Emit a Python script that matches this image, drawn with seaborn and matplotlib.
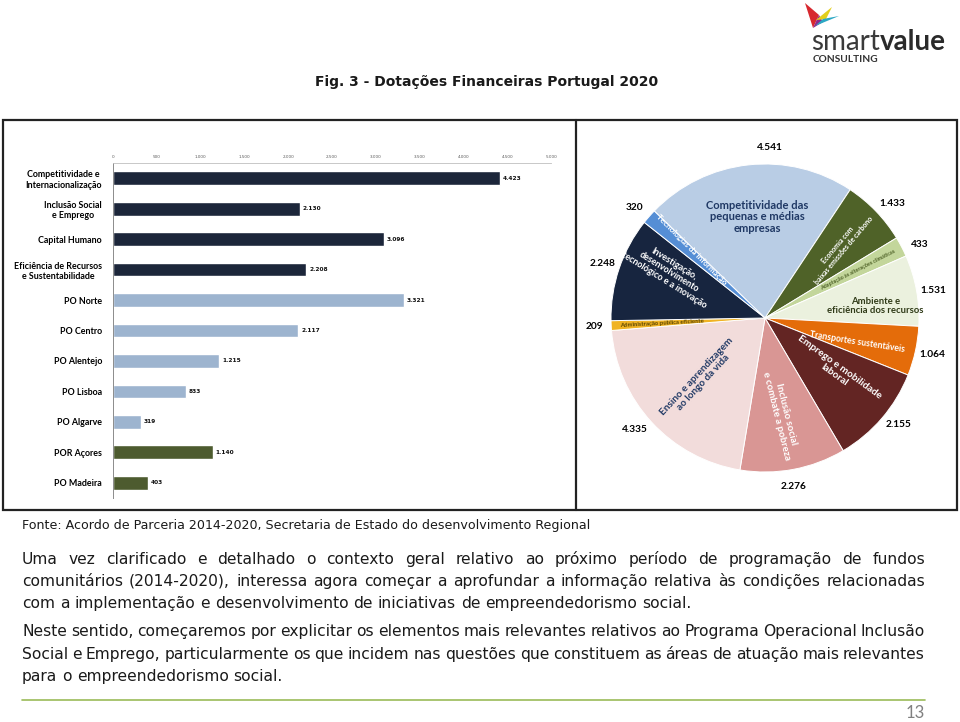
import numpy as np
import pandas as pd
import matplotlib
matplotlib.use("Agg")
import matplotlib.pyplot as plt
import matplotlib.patches as patches
from matplotlib.lines import Line2D
import seaborn as sns

# ---- dados: barras (programas operacionais, M EUR)
programas = ["Competitividade e\nInternacionalização", "Inclusão Social\ne Emprego", "Capital Humano",
             "Eficiência de Recursos\ne Sustentabilidade", "PO Norte", "PO Centro", "PO Alentejo",
             "PO Lisboa", "PO Algarve", "POR Açores", "PO Madeira"]
dotacoes = [4423, 2130, 3096, 2208, 3321, 2117, 1215, 833, 319, 1140, 403]
grupos = ["Temático"] * 4 + ["Regional"] * 5 + ["Autónomo"] * 2
ticks_x = [0, 500, 1000, 1500, 2000, 2500, 3000, 3500, 4000, 4500, 5000]

# ---- dados: circular (objetivos temáticos)
objetivos = ["Competitividade das\npequenas e médias\nempresas",
             "Economia com\nbaixas emissões de carbono",
             "Adaptação às alterações climáticas",
             "Ambiente e\neficiência dos recursos",
             "Transportes sustentáveis",
             "Emprego e mobilidade\nlaboral",
             "Inclusão social\ne combate a pobreza",
             "Ensino e aprendizagem\nao longo da vida",
             "Administração pública eficiente",
             "Investigação,\ndesenvolvimento\ntecnológico e a inovação",
             "Tecnologias da informação"]
valores_obj = [4541, 1433, 433, 1531, 1064, 2155, 2276, 4335, 209, 2248, 320]

# ---- estilo
cores_grupo = {"Temático": "#17253f", "Regional": "#95b3d7", "Autónomo": "#4f6228"}
cores_obj = ["#b9cde5", "#4f6228", "#c3d69b", "#ebf1de", "#e46c0a", "#632523",
             "#d99694", "#f2dcdb", "#f0b323", "#17253f", "#558ed5"]
# rótulos internos: raio, desvio angular, rotação, tamanho, cor
r_txt = [0.66, 0.67, 0.68, 0.72, 0.62, 0.58, 0.64, 0.58, 0.67, 0.69, 0.65]
dth_txt = [-2, -1, 0, -4, -2, 4, -1, 1, 0, -7, -2]
rot_txt = [0, 50, 27, 0, -9, -36, -76, 47, 3, -32, -45]
tam_txt = [8, 5.0, 3.9, 6.8, 6.2, 7.3, 7, 7.2, 4.3, 6.5, 5.9]
cor_txt = ["#1f3864", "white", "#4f6228", "#2f3a17", "white", "white", "white",
           "#1f3864", "#5a4500", "white", "white"]
dth_val = [-8, -2, -2, -1, 0, 2, -1, -2, 0, 0, 1]

W, H = 960, 722


def fx(x):
    return x / W


def fy(y):
    return 1 - y / H


def pt(v):
    return f"{v:,.0f}".replace(",", ".")


sns.set_theme(style="white")
plt.rcParams['font.family'] = ['DejaVu Sans']

fig = plt.figure(figsize=(9.6, 7.22), dpi=100)
fig.patch.set_facecolor("white")
renderer = fig.canvas.get_renderer()

# ---- moldura
fig.add_artist(patches.Rectangle((fx(3), fy(510)), (957 - 3) / W, (510 - 120) / H, transform=fig.transFigure,
                                 fill=False, edgecolor="#222222", linewidth=1.6))
fig.add_artist(Line2D([fx(576), fx(576)], [fy(120), fy(510)], color="#222222", linewidth=1.6))

# ---- barras
df = pd.DataFrame({"programa": programas, "valor": dotacoes, "grupo": grupos})
ax1 = fig.add_axes([fx(113), fy(498), (551 - 113) / W, (498 - 163) / H])
sns.barplot(data=df, x="valor", y="programa", hue="grupo", palette=cores_grupo, dodge=False,
            width=0.45, orient="h", legend=False, ax=ax1)
ax1.set_xlim(0, 5000)
ax1.set_ylim(len(programas) - 0.5, -0.5)
ax1.xaxis.tick_top()
ax1.set_xticks(ticks_x)
ax1.set_xticklabels([pt(t) for t in ticks_x], fontsize=3, color="#595959")
ax1.tick_params(axis="x", length=0, pad=3)
ax1.set_xlabel("")
ax1.set_ylabel("")
ax1.set_yticks(range(len(programas)))
ax1.set_yticklabels(programas, fontsize=6.4, fontweight="bold", family="Lato", color="black")
for lbl in ax1.get_yticklabels():
    lbl.set_multialignment("center")
ax1.tick_params(axis="y", length=0, pad=8)
ax1.set_yticks(np.arange(-0.5, len(programas), 1), minor=True)
ax1.tick_params(axis="y", which="minor", length=3, color="#a6a6a6", width=0.6)
for s in ["right", "bottom"]:
    ax1.spines[s].set_visible(False)
ax1.spines["top"].set_color("#bfbfbf")
ax1.spines["top"].set_linewidth(0.6)
ax1.spines["left"].set_color("#8c8c8c")
ax1.spines["left"].set_linewidth(0.7)
for c in ax1.containers:
    vals = [b.get_width() for b in c]
    ax1.bar_label(c, labels=[pt(v) if np.isfinite(v) and v > 0 else "" for v in vals], padding=2,
                  fontsize=4.2, fontweight="bold", family="DejaVu Sans", color="#111111")

# ---- circular
ax2 = fig.add_axes([fx(765 - 160), fy(318 + 160), 320 / W, 320 / H])
wedges, _ = ax2.pie(valores_obj, colors=cores_obj, startangle=136, counterclock=False,
                    wedgeprops=dict(edgecolor="white", linewidth=0.7))
lim = 160 / 154
ax2.set_xlim(-lim, lim)
ax2.set_ylim(-lim, lim)
ax2.set_aspect("equal")
ax2.axis("off")
for i, w in enumerate(wedges):
    mid = (w.theta1 + w.theta2) / 2
    a = np.deg2rad(mid + dth_txt[i])
    ax2.text(r_txt[i] * np.cos(a), r_txt[i] * np.sin(a), objetivos[i], ha="center", va="center",
             rotation=rot_txt[i], rotation_mode="anchor", fontsize=tam_txt[i], fontweight="bold",
             family="Lato", color=cor_txt[i], linespacing=1.05)
    b = np.deg2rad(mid + dth_val[i])
    ax2.text(1.11 * np.cos(b), 1.11 * np.sin(b), pt(valores_obj[i]), ha="center", va="center",
             fontsize=7.3, fontweight="bold", family="Lato", color="black")

# ---- título e logótipo
fig.text(fx(487), fy(82), "Fig. 3 - Dotações Financeiras Portugal 2020", ha="center", va="center",
         fontsize=10, fontweight="bold", color="#1a1a1a")
for cor, pts in [("#d7282f", [(805, 3), (813, 28), (819, 15)]),
                 ("#8e2a8c", [(813, 28), (819, 15), (823, 22)]),
                 ("#e3cf1c", [(816, 20), (832, 7), (826, 19)]),
                 ("#2aa8c4", [(815, 26), (839, 16), (823, 19)])]:
    fig.add_artist(patches.Polygon([(fx(x), fy(y)) for x, y in pts], closed=True, transform=fig.transFigure,
                                   facecolor=cor, edgecolor="none"))
t_smart = fig.text(fx(811), fy(50), "smart", ha="left", va="baseline", fontsize=20, family="Lato",
                   fontweight="normal", color="#3a3a3a")
w_smart = t_smart.get_window_extent(renderer).width
fig.text(fx(811 + w_smart + 0.5), fy(50), "value", ha="left", va="baseline", fontsize=20, family="Lato",
         fontweight="bold", color="#2a2a2a")
fig.text(fx(813), fy(59), "CONSULTING", ha="left", va="center", fontsize=7.3, family="Lato",
         fontweight="bold", color="#333333")

# ---- fonte e texto
fig.text(fx(22), fy(526), "Fonte: Acordo de Parceria 2014-2020, Secretaria de Estado do desenvolvimento Regional",
         ha="left", va="center", fontsize=9.1, color="#1a1a1a")


def linha(texto, y, justificar=True, x0=22, x1=925):
    palavras = texto.split()
    objs = [fig.text(0, fy(y + 4), p, ha="left", va="baseline", fontsize=11.2, color="#1a1a1a")
            for p in palavras]
    larg = [o.get_window_extent(renderer).width for o in objs]
    if justificar:
        gap = (x1 - x0 - sum(larg)) / (len(palavras) - 1)
    else:
        gap = objs[0].get_fontsize() * 100 / 72 * 0.318
    x = x0
    for o, wd in zip(objs, larg):
        o.set_x(fx(x))
        x += wd + gap


linha("Uma vez clarificado e detalhado o contexto geral relativo ao próximo período de programação de fundos", 560)
linha("comunitários (2014-2020), interessa agora começar a aprofundar a informação relativa às condições relacionadas", 582)
linha("com a implementação e desenvolvimento de iniciativas de empreendedorismo social.", 604, False)
linha("Neste sentido, começaremos por explicitar os elementos mais relevantes relativos ao Programa Operacional Inclusão", 632)
linha("Social e Emprego, particularmente os que incidem nas questões que constituem as áreas de atuação mais relevantes", 655)
linha("para o empreendedorismo social.", 677, False)

fig.add_artist(Line2D([fx(22), fx(925)], [fy(700), fy(700)], color="#9bbb59", linewidth=1.2))
fig.text(fx(925), fy(713), "13", ha="right", va="center", fontsize=12, color="#808080", family="Lato",
         fontweight="normal")

fig.savefig("out.png", dpi=100)
